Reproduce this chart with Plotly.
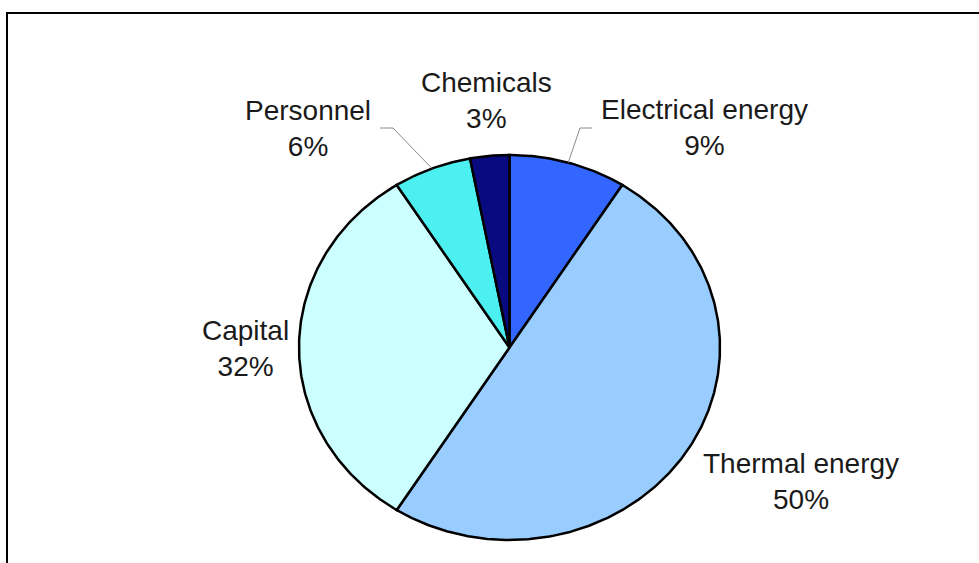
import numpy as np
import plotly.graph_objects as go

# Cost breakdown, listed clockwise from 12 o'clock
categories = ["Electrical energy", "Thermal energy", "Capital", "Personnel", "Chemicals"]
shares = [9, 50, 32, 6, 3]
colors = ["#3366FF", "#99CCFF", "#CCFFFF", "#4DF0F0", "#0A0A80"]

W, H = 979, 563
CX, CY = 509.5, 347.5      # pie centre (pixel axes)
RX, RY = 210.5, 192.5      # slightly oval pie

# label block centres and leader-line elbows
label_pos = {
    "Electrical energy": (704, 127),
    "Thermal energy": (801, 481),
    "Capital": (245, 348),
    "Personnel": (308, 128),
    "Chemicals": (486, 100),
}
leaders = {
    "Electrical energy": [(580, 128), (592, 128)],
    "Personnel": [(393, 128), (380, 128)],
}


def ellipse_pt(theta):
    return CX + RX * np.sin(theta), CY - RY * np.cos(theta)


fig = go.Figure()
total = sum(shares)
start = 0.0
mids = {}
for name, val, col in zip(categories, shares, colors):
    a0 = start / total * 2 * np.pi
    a1 = (start + val) / total * 2 * np.pi
    t = np.linspace(a0, a1, max(8, int(val * 6)))
    ex, ey = ellipse_pt(t)
    xs = np.concatenate([[CX], ex, [CX]])
    ys = np.concatenate([[CY], ey, [CY]])
    fig.add_trace(go.Scatter(
        x=xs, y=ys, fill="toself", fillcolor=col, mode="lines",
        line=dict(color="black", width=2.5), name=name,
        hoverinfo="text", text=f"{name}: {val}%", showlegend=False,
    ))
    mids[name] = (a0 + a1) / 2
    start += val

# leader lines from slice mid-arc to the label
for name, pts in leaders.items():
    px, py = ellipse_pt(mids[name])
    xs = [px] + [p[0] for p in pts]
    ys = [py] + [p[1] for p in pts]
    fig.add_trace(go.Scatter(x=xs, y=ys, mode="lines",
                             line=dict(color="#8a8a8a", width=1),
                             hoverinfo="skip", showlegend=False))

for name, val in zip(categories, shares):
    lx, ly = label_pos[name]
    fig.add_annotation(x=lx, y=ly, text=f"{name}<br>{val}%", showarrow=False,
                       xanchor="center", yanchor="middle",
                       font=dict(family="Liberation Sans, Arial", size=28, color="#1a1a1a"))

# frame lines on left and top
fig.add_shape(type="path", xref="x", yref="y",
              path=f"M 7 {H} L 7 13 L {W} 13",
              line=dict(color="black", width=2))

fig.update_xaxes(range=[0, W], visible=False, fixedrange=True)
fig.update_yaxes(range=[H, 0], visible=False, fixedrange=True)
fig.update_layout(width=W, height=H, margin=dict(l=0, r=0, t=0, b=0),
                  plot_bgcolor="white", paper_bgcolor="white")

fig.write_html("out.html")
